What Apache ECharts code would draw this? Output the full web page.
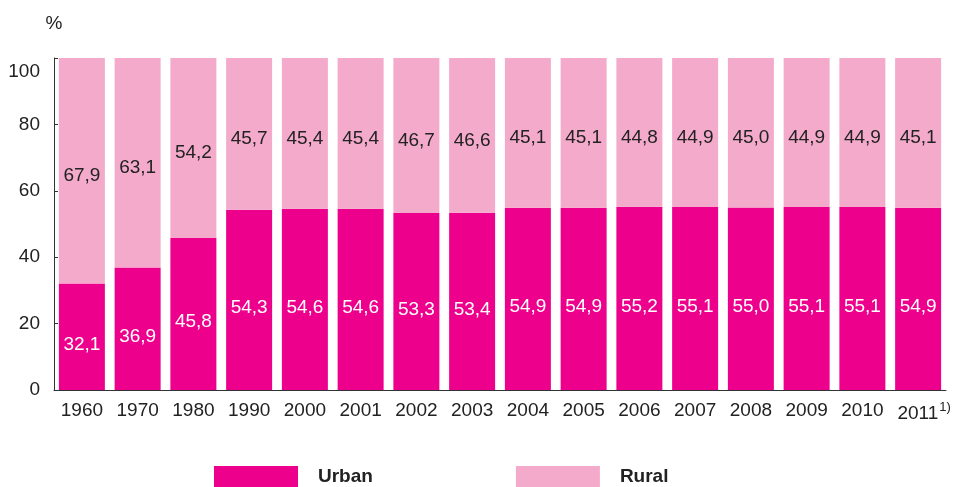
<!DOCTYPE html>
<html>
<head>
<meta charset="utf-8">
<script src="https://cdn.jsdelivr.net/npm/echarts@6/dist/echarts.min.js"></script>
<style>
  html, body { margin: 0; padding: 0; background: #fff; }
  #chart { width: 957px; height: 487px; }
</style>
</head>
<body>
<div id="chart"></div>
<script>
const years = ['1960', '1970', '1980', '1990', '2000', '2001', '2002', '2003',
  '2004', '2005', '2006', '2007', '2008', '2009', '2010', '2011']
const urban = [32.1, 36.9, 45.8, 54.3, 54.6, 54.6, 53.3, 53.4, 54.9, 54.9, 55.2, 55.1, 55.0, 55.1, 55.1, 54.9]
const rural = [67.9, 63.1, 54.2, 45.7, 45.4, 45.4, 46.7, 46.6, 45.1, 45.1, 44.8, 44.9, 45.0, 44.9, 44.9, 45.1]
const yTicks = [0, 20, 40, 60, 80, 100]

const URBAN = '#ec008c'
const RURAL = '#f4aacb'
const FONT = 'Liberation Sans, Arial, sans-serif'

// comma as decimal separator
const fmt = v => v.toFixed(1).replace('.', ',')

const chart = echarts.init(document.getElementById('chart'))
chart.setOption({
  animation: false,
  textStyle: { fontFamily: FONT },
  grid: { left: 54, right: 11, top: 58, bottom: 97 },
  legend: {
    left: 209,
    top: 461,
    itemWidth: 84,
    itemHeight: 21,
    itemGap: 143,
    icon: 'rect',
    textStyle: { fontSize: 19, fontWeight: 'bold', color: '#222', padding: [0, 0, 0, 15] },
    data: ['Urban', 'Rural']
  },
  xAxis: {
    type: 'category',
    data: years,
    axisLine: { lineStyle: { color: '#333', width: 1 } },
    axisTick: { inside: true, length: 6, lineStyle: { color: '#333' } },
    axisLabel: {
      interval: 0,
      color: '#222',
      fontSize: 19,
      margin: 11,
      formatter: (v, i) => (i === years.length - 1 ? '{pad|}' + v + '{sup|1)}' : v),
      rich: {
        pad: { width: 12 },
        sup: { fontSize: 13, verticalAlign: 'top', padding: [0, 0, 12, 1], color: '#222' }
      }
    }
  },
  yAxis: {
    type: 'value',
    min: yTicks[0],
    max: yTicks[yTicks.length - 1],
    interval: 20,
    name: '%',
    nameLocation: 'end',
    nameGap: 25,
    nameTextStyle: { fontSize: 19, color: '#222', align: 'center' },
    axisLine: { show: true, lineStyle: { color: '#333', width: 1 } },
    axisTick: { show: true, inside: true, length: 4, lineStyle: { color: '#333' } },
    axisLabel: {
      color: '#222',
      fontSize: 19,
      margin: 14,
      // the top label sits a bit under its tick in the original
      formatter: v => (v === 100 ? '{low|100}' : String(v)),
      rich: { low: { fontSize: 19, color: '#222', padding: [28, 0, 0, 0] } }
    },
    splitLine: { show: false }
  },
  series: [
    {
      name: 'Urban',
      type: 'bar',
      stack: 'total',
      barWidth: 46,
      data: urban,
      itemStyle: { color: URBAN },
      label: {
        show: true,
        position: 'inside',
        offset: [0, 8],
        color: '#fff',
        fontSize: 19,
        formatter: p => fmt(p.value)
      }
    },
    {
      name: 'Rural',
      type: 'bar',
      stack: 'total',
      barWidth: 46,
      data: rural,
      itemStyle: { color: RURAL },
      label: {
        show: true,
        position: 'inside',
        offset: [0, 5],
        color: '#222',
        fontSize: 19,
        formatter: p => fmt(p.value)
      }
    }
  ]
})
</script>
</body>
</html>
